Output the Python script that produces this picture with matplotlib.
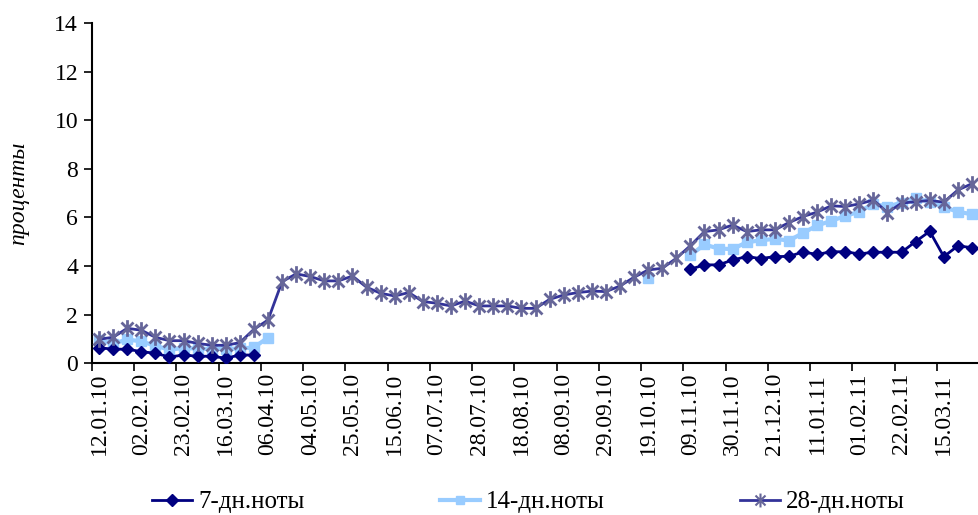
import matplotlib
matplotlib.use("Agg")
import matplotlib.pyplot as plt
import numpy as np
from matplotlib.path import Path
from matplotlib.lines import Line2D

plt.rcParams['font.family'] = ['Liberation Serif', 'DejaVu Serif']

tick_labels = ["12.01.10", "02.02.10", "23.02.10", "16.03.10", "06.04.10", "04.05.10",
               "25.05.10", "15.06.10", "07.07.10", "28.07.10", "18.08.10", "08.09.10",
               "29.09.10", "19.10.10", "09.11.10", "30.11.10", "21.12.10", "11.01.11",
               "01.02.11", "22.02.11", "15.03.11"]
n_points = 63
nan = np.nan

notes_7 = [0.64, 0.58, 0.58, 0.48, 0.41, 0.26, 0.34, 0.29, 0.29, 0.21, 0.34, 0.34] + \
          [nan] * 30 + \
          [3.87, 4.05, 4.05, 4.25, 4.39, 4.31, 4.39, 4.40, 4.58, 4.48, 4.59, 4.59,
           4.50, 4.57, 4.57, 4.57, 5.01, 5.43, 4.39, 4.83, 4.76]

notes_14 = [0.96, 0.80, 0.98, 0.90, 0.72, 0.56, 0.63, 0.60, 0.59, 0.59, 0.61, 0.65, 1.06] + \
           [nan] * 26 + [3.50, nan, nan] + \
           [4.44, 4.89, 4.72, 4.70, 4.98, 5.06, 5.12, 5.05, 5.36, 5.67, 5.86, 6.06,
            6.24, 6.56, 6.45, 6.61, 6.79, 6.65, 6.42, 6.24, 6.13]

notes_28 = [0.99, 1.07, 1.44, 1.36, 1.07, 0.93, 0.93, 0.82, 0.74, 0.74, 0.85, 1.40,
            1.78, 3.36, 3.68, 3.57, 3.39, 3.39, 3.59, 3.13, 2.88, 2.77, 2.91, 2.54,
            2.47, 2.36, 2.56, 2.36, 2.36, 2.36, 2.26, 2.26, 2.63, 2.81, 2.91, 2.97,
            2.95, 3.18, 3.54, 3.84, 3.91, 4.32, 4.84, 5.42, 5.49, 5.69, 5.42, 5.49,
            5.49, 5.79, 6.04, 6.22, 6.48, 6.45, 6.56, 6.72, 6.20, 6.59, 6.65, 6.70,
            6.63, 7.13, 7.39]

series_names = ["7-дн.ноты", "14-дн.ноты", "28-дн.ноты"]

x = np.arange(n_points)

fig = plt.figure(figsize=(9.79, 5.15), dpi=100)
ax = fig.add_axes([0.094, 0.2946, 0.906, 0.6606])

star = Path([(0, -1), (0, 1), (-0.72, -0.72), (0.72, 0.72), (-0.72, 0.72), (0.72, -0.72)],
            [Path.MOVETO, Path.LINETO, Path.MOVETO, Path.LINETO, Path.MOVETO, Path.LINETO])

ax.plot(x, notes_14, color='#99CCFF', lw=3, marker='s', ms=7, mfc='#99CCFF', mec='#99CCFF',
        label=series_names[1], zorder=2)
ax.plot(x, notes_7, color='#000080', lw=2, marker='D', ms=6.5, mfc='#000080', mec='#000080',
        label=series_names[0], zorder=3)
ax.plot(x, notes_28, color='#333399', lw=2, marker=star, ms=12, mec='#666699', mew=2,
        label=series_names[2], zorder=4)

ax.set_xlim(-0.5, 62.0)
ax.set_ylim(0, 14)
ax.set_yticks(np.arange(0, 15, 2))
ax.tick_params(axis='y', direction='out', length=6, width=1.2, labelsize=17, pad=4)

label_pos = np.arange(0, n_points, 3)[:len(tick_labels)]
ax.set_xticks(label_pos)
ax.set_xticklabels(tick_labels, rotation=90, fontsize=17)
ax.tick_params(axis='x', which='major', length=0, pad=7)
ax.set_xticks(np.arange(-0.5, n_points, 3), minor=True)
ax.tick_params(axis='x', which='minor', direction='out', length=6, width=1.2)

for s in ['top', 'right']:
    ax.spines[s].set_visible(False)
for s in ['left', 'bottom']:
    ax.spines[s].set_linewidth(1.5)
    ax.spines[s].set_color('black')

ax.set_ylabel("проценты", fontsize=17, style='italic', labelpad=18)

handles = [
    Line2D([], [], color='#000080', lw=2, marker='D', ms=6, mfc='#000080', mec='#000080'),
    Line2D([], [], color='#99CCFF', lw=3, marker='s', ms=6, mfc='#99CCFF', mec='#99CCFF'),
    Line2D([], [], color='#333399', lw=2, marker=star, ms=10, mec='#666699', mew=1.5),
]
fig.legend(handles, series_names, loc='center', bbox_to_anchor=(0.54, 0.025), ncol=3,
           frameon=False, fontsize=18, handlelength=1.6, handletextpad=0.25,
           columnspacing=5.4)

fig.savefig("out.png", dpi=100)
